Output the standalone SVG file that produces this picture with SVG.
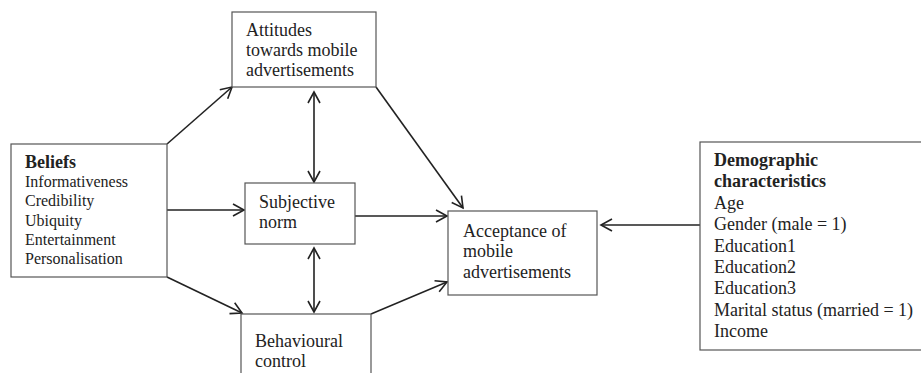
<svg xmlns="http://www.w3.org/2000/svg" width="921" height="373" viewBox="0 0 921 373">
<defs>
<style>
.box{fill:#fff;stroke:#555;stroke-width:1.2}
.t{font-family:"Liberation Serif","Times New Roman",serif;font-size:18px;fill:#222}
.s{font-size:16px}
.b{font-weight:bold}
.c{stroke:#222;stroke-width:1.6;fill:none}
.a{marker-end:url(#ah)}
.d{marker-start:url(#ah);marker-end:url(#ah)}
</style>
<marker id="ah" markerUnits="userSpaceOnUse" markerWidth="14" markerHeight="14" viewBox="0 0 14 14" refX="12" refY="7" orient="auto-start-reverse">
<path d="M1,1 L12,7 L1,13" fill="none" stroke="#222" stroke-width="1.6"/>
</marker>
</defs>
<rect width="921" height="373" fill="#fff"/>
<g id="connectors">
<line class="c a" x1="167" y1="144" x2="232" y2="87"/>
<line class="c a" x1="167" y1="210" x2="244" y2="210"/>
<line class="c a" x1="167" y1="277" x2="242" y2="313"/>
<line class="c d" x1="314" y1="92" x2="314" y2="182"/>
<line class="c d" x1="314" y1="248" x2="314" y2="312"/>
<line class="c a" x1="376" y1="87" x2="463" y2="208"/>
<line class="c a" x1="355" y1="216" x2="447" y2="216"/>
<line class="c a" x1="371" y1="314" x2="447" y2="282"/>
<line class="c a" x1="700" y1="225" x2="601" y2="225"/>
</g>
<g id="beliefs">
<rect class="box" x="11" y="144" width="156" height="133"/>
<text class="t b" x="25" y="168">Beliefs</text>
<text class="t s" x="25" y="187">Informativeness</text>
<text class="t s" x="25" y="206">Credibility</text>
<text class="t s" x="25" y="225.5">Ubiquity</text>
<text class="t s" x="25" y="245">Entertainment</text>
<text class="t s" x="25" y="264">Personalisation</text>
</g>
<g id="attitudes">
<rect class="box" x="232" y="12" width="144" height="75"/>
<text class="t" x="246" y="36">Attitudes</text>
<text class="t" x="246" y="56">towards mobile</text>
<text class="t" x="246" y="76">advertisements</text>
</g>
<g id="subjective">
<rect class="box" x="245" y="183" width="110" height="61"/>
<text class="t" x="259" y="208">Subjective</text>
<text class="t" x="259" y="228">norm</text>
</g>
<g id="behavioural">
<rect class="box" x="241" y="314" width="130" height="70"/>
<text class="t" x="255" y="347">Behavioural</text>
<text class="t" x="255" y="367">control</text>
</g>
<g id="acceptance">
<rect class="box" x="448" y="211" width="149" height="84"/>
<text class="t" x="463" y="237">Acceptance of</text>
<text class="t" x="463" y="257">mobile</text>
<text class="t" x="463" y="278">advertisements</text>
</g>
<g id="demographic">
<rect class="box" x="700" y="142" width="230" height="208"/>
<text class="t b" x="714" y="166">Demographic</text>
<text class="t b" x="714" y="187.4">characteristics</text>
<text class="t" x="714" y="208.8">Age</text>
<text class="t" x="714" y="230.2">Gender (male = 1)</text>
<text class="t" x="714" y="251.6">Education1</text>
<text class="t" x="714" y="273">Education2</text>
<text class="t" x="714" y="294.4">Education3</text>
<text class="t" x="714" y="315.8">Marital status (married = 1)</text>
<text class="t" x="714" y="337.2">Income</text>
</g>
</svg>
